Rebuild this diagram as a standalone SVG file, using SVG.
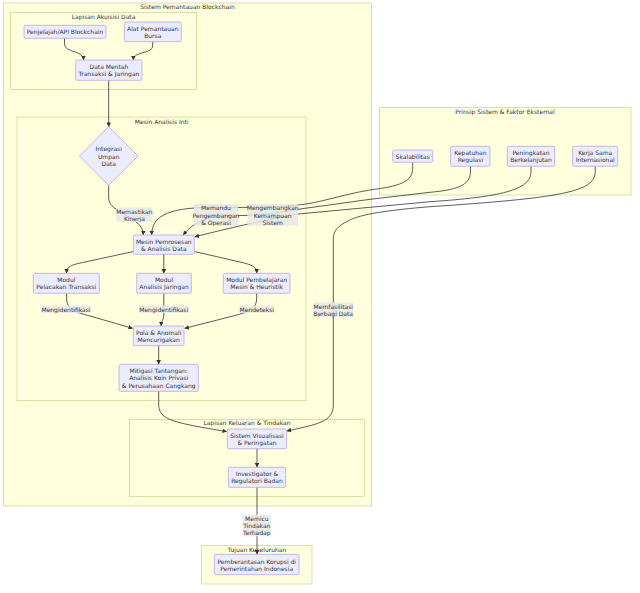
<svg xmlns="http://www.w3.org/2000/svg" width="640" height="593" viewBox="0 0 640 593">
<defs>
<style>
.cl{fill:#ffffde;stroke:#c8c87a;stroke-width:0.6}
.ct{font-family:"DejaVu Sans",sans-serif;font-size:6px;fill:#333;text-anchor:middle;dominant-baseline:central}
.nd{fill:#ececff;stroke:#a58be0;stroke-width:0.6}
.t{font-family:"DejaVu Sans",sans-serif;font-size:6px;fill:#333;text-anchor:middle;dominant-baseline:central}
.e{fill:none;stroke:#333;stroke-width:0.8}
.lb{fill:#e8e8e8;opacity:0.85}
</style>
<marker id="ah" viewBox="0 0 10 10" refX="9" refY="5" markerUnits="userSpaceOnUse" markerWidth="4.5" markerHeight="4.5" orient="auto">
<path d="M0,0 L10,5 L0,10 z" fill="#333"/>
</marker>
</defs>
<rect width="640" height="593" fill="#ffffff"/>

<g id="clusters">
<g id="cl-sistem"><rect class="cl" x="3.3" y="3" width="368.4" height="503"/><text class="ct" x="187.5" y="6.6">Sistem Pemantauan Blockchain</text></g>
<g id="cl-akuisisi"><rect class="cl" x="10.7" y="12.3" width="186" height="77"/><text class="ct" x="103.5" y="16">Lapisan Akuisisi Data</text></g>
<g id="cl-mesin"><rect class="cl" x="17" y="117" width="289" height="283.7"/><text class="ct" x="161.7" y="121">Mesin Analisis Inti</text></g>
<g id="cl-prinsip"><rect class="cl" x="379.3" y="107.7" width="251.7" height="87.3"/><text class="ct" x="505" y="111.7">Prinsip Sistem &amp; Faktor Eksternal</text></g>
<g id="cl-keluaran"><rect class="cl" x="129.3" y="419.3" width="235" height="77.4"/><text class="ct" x="247" y="422.8">Lapisan Keluaran &amp; Tindakan</text></g>
<g id="cl-tujuan"><rect class="cl" x="201.7" y="545.3" width="110.3" height="38.7"/><text class="ct" x="257" y="549">Tujuan Keseluruhan</text></g>
</g>

<g id="connectors">
<path class="e" marker-end="url(#ah)" d="M64.5,38.3 L64.5,44 C64.5,53 83.5,50 83.5,59.8"/>
<path class="e" marker-end="url(#ah)" d="M152.7,41.7 L152.7,46 C152.7,54 133.3,51 133.3,59.8"/>
<path class="e" marker-end="url(#ah)" d="M108.7,80.3 L108.7,126.5"/>
<path class="e" marker-end="url(#ah)" d="M108.7,185.3 L108.7,198 C108.7,214 143.3,216 143.3,234.8"/>
<path class="e" marker-end="url(#ah)" d="M412.7,162.3 L412.7,168 C412.7,182 400,186 370,190 C340,195 320,203 298,205 C270,207.5 250,207.5 210,207.5 C165,207.5 151.7,218 151.7,234.8"/>
<path class="e" marker-end="url(#ah)" d="M470.4,166.3 L470.4,172 C470.4,186 455,190 430,192.3 L370,199.3 L298,209.3 C270,214 255,215.7 230,215.7 C205,215.7 192,224 183.3,234.8"/>
<path class="e" marker-end="url(#ah)" d="M531,166.3 L531,172 C531,190 500,197 430,201.7 L370,207.3 L298,214 C260,221 225,229 195,236.8"/>
<path class="e" marker-end="url(#ah)" d="M595.2,166.3 L595.2,172 C595.2,192 560,198 430,206.7 C390,210 360,214 348,221 C338,226 333.3,230 333.3,240 L333.3,405 C333.3,422 318,424 287,431"/>
<path class="e" marker-end="url(#ah)" d="M133.5,251.5 L85,262 C70,265 66.6,267 66.6,273.1"/>
<path class="e" marker-end="url(#ah)" d="M163.8,254.3 L163.8,273.1"/>
<path class="e" marker-end="url(#ah)" d="M194.3,251.5 L240,262 C253,265 256.7,267 256.7,273.1"/>
<path class="e" marker-end="url(#ah)" d="M66.6,293.3 L66.6,298 C66.6,310 75,312 90,316 L132.5,328.3"/>
<path class="e" marker-end="url(#ah)" d="M163.8,293.3 L163.8,314 C163.8,320 161.2,321 161.2,325.8"/>
<path class="e" marker-end="url(#ah)" d="M256.7,293.3 L256.7,298 C256.7,310 248,312 233,316 L184.8,328.3"/>
<path class="e" marker-end="url(#ah)" d="M158.7,345.7 L158.7,364.1"/>
<path class="e" marker-end="url(#ah)" d="M158.7,391.3 L158.7,405 C158.7,420 175,423 226.5,431.5"/>
<path class="e" marker-end="url(#ah)" d="M257,448.7 L257,467.1"/>
<path class="e" marker-end="url(#ah)" d="M257,487.3 L257,554.1"/>
</g>

<g id="edge-labels">
<g><rect class="lb" x="116.3" y="207.3" width="36.2" height="14.6"/><text class="t" x="134.4" y="211">Memastikan</text><text class="t" x="134.4" y="218.2">Kinerja</text></g>
<g><rect class="lb" x="194" y="204" width="44" height="21.8"/><text class="t" x="216" y="207.7">Memandu</text><text class="t" x="216" y="215">Pengembangan</text><text class="t" x="216" y="222.2">&amp; Operasi</text></g>
<g><rect class="lb" x="247.5" y="204" width="50.5" height="21.8"/><text class="t" x="272.7" y="207.7">Mengembangkan</text><text class="t" x="272.7" y="215">Kemampuan</text><text class="t" x="272.7" y="222.2">Sistem</text></g>
<g><rect class="lb" x="41.3" y="305.6" width="49.6" height="7.4"/><text class="t" x="66" y="309.3">Mengidentifikasi</text></g>
<g><rect class="lb" x="139" y="305.6" width="49.6" height="7.4"/><text class="t" x="163.8" y="309.3">Mengidentifikasi</text></g>
<g><rect class="lb" x="239.8" y="305.6" width="34" height="7.4"/><text class="t" x="256.8" y="309.3">Mendeteksi</text></g>
<g><rect class="lb" x="313.3" y="302.3" width="40" height="14.7"/><text class="t" x="333.3" y="306">Memfasilitasi</text><text class="t" x="333.3" y="313.3">Berbagi Data</text></g>
<g><rect class="lb" x="242.6" y="514.6" width="28.4" height="21.8"/><text class="t" x="256.8" y="518.3">Memicu</text><text class="t" x="256.8" y="525.6">Tindakan</text><text class="t" x="256.8" y="532.8">Terhadap</text></g>
</g>

<g id="n-penjelajah"><rect class="nd" x="24" y="25.3" width="82" height="13" rx="1.5"/><text class="t" x="65" y="31.8">Penjelajah/API Blockchain</text></g>
<g id="n-alat"><rect class="nd" x="124.3" y="22" width="57" height="19.7" rx="1.5"/><text class="t" x="152.8" y="28.3">Alat Pemantauan</text><text class="t" x="152.8" y="35.4">Bursa</text></g>
<g id="n-datamentah"><rect class="nd" x="75.7" y="60" width="66.3" height="20.3" rx="1.5"/><text class="t" x="108.9" y="66.7">Data Mentah</text><text class="t" x="108.9" y="73.7">Transaksi &amp; Jaringan</text></g>
<g id="n-integrasi"><polygon class="nd" points="108.7,126.7 138,156 108.7,185.3 79.4,156"/><text class="t" x="108.7" y="148.9">Integrasi</text><text class="t" x="108.7" y="156">Umpan</text><text class="t" x="108.7" y="163.2">Data</text></g>
<g id="n-pemrosesan"><rect class="nd" x="133.3" y="235" width="61" height="19.3" rx="1.5"/><text class="t" x="163.8" y="241.1">Mesin Pemrosesan</text><text class="t" x="163.8" y="248.2">&amp; Analisis Data</text></g>
<g id="n-pelacakan"><rect class="nd" x="33.3" y="273.3" width="66" height="20" rx="1.5"/><text class="t" x="66.3" y="279.6">Modul</text><text class="t" x="66.3" y="286.8">Pelacakan Transaksi</text></g>
<g id="n-jaringan"><rect class="nd" x="136.7" y="273.3" width="54.6" height="20" rx="1.5"/><text class="t" x="164" y="279.6">Modul</text><text class="t" x="164" y="286.8">Analisis Jaringan</text></g>
<g id="n-pembelajaran"><rect class="nd" x="223.3" y="273.3" width="66.7" height="20" rx="1.5"/><text class="t" x="256.7" y="279.6">Modul Pembelajaran</text><text class="t" x="256.7" y="286.8">Mesin &amp; Heuristik</text></g>
<g id="n-pola"><rect class="nd" x="133.3" y="326" width="50.7" height="19.7" rx="1.5"/><text class="t" x="158.7" y="332.2">Pola &amp; Anomali</text><text class="t" x="158.7" y="339.4">Mencurigakan</text></g>
<g id="n-mitigasi"><rect class="nd" x="119" y="364.3" width="79.3" height="27" rx="1.5"/><text class="t" x="158.7" y="370.4">Mitigasi Tantangan:</text><text class="t" x="158.7" y="377.7">Analisis Koin Privasi</text><text class="t" x="158.7" y="385">&amp; Perusahaan Cangkang</text></g>
<g id="n-skalabilitas"><rect class="nd" x="392.7" y="150" width="40" height="12.3" rx="1.5"/><text class="t" x="412.7" y="156.2">Skalabilitas</text></g>
<g id="n-kepatuhan"><rect class="nd" x="450.7" y="146.3" width="39.3" height="20" rx="1.5"/><text class="t" x="470.4" y="152.7">Kepatuhan</text><text class="t" x="470.4" y="159.9">Regulasi</text></g>
<g id="n-peningkatan"><rect class="nd" x="507.3" y="146.3" width="47.4" height="20" rx="1.5"/><text class="t" x="531" y="152.7">Peningkatan</text><text class="t" x="531" y="159.9">Berkelanjutan</text></g>
<g id="n-kerjasama"><rect class="nd" x="572.7" y="146.3" width="45" height="20" rx="1.5"/><text class="t" x="595.2" y="152.7">Kerja Sama</text><text class="t" x="595.2" y="159.9">Internasional</text></g>
<g id="n-visualisasi"><rect class="nd" x="227.3" y="429" width="59.4" height="19.7" rx="1.5"/><text class="t" x="257" y="435">Sistem Visualisasi</text><text class="t" x="257" y="442.3">&amp; Peringatan</text></g>
<g id="n-investigator"><rect class="nd" x="228.3" y="467.3" width="57.4" height="20" rx="1.5"/><text class="t" x="257" y="473.8">Investigator &amp;</text><text class="t" x="257" y="480.9">Regulatori Badan</text></g>
<g id="n-pemberantasan"><rect class="nd" x="214.3" y="554.3" width="84.7" height="20.4" rx="1.5"/><text class="t" x="256.7" y="561.2">Pemberantasan Korupsi di</text><text class="t" x="256.7" y="568.4">Pemerintahan Indonesia</text></g>
</svg>
